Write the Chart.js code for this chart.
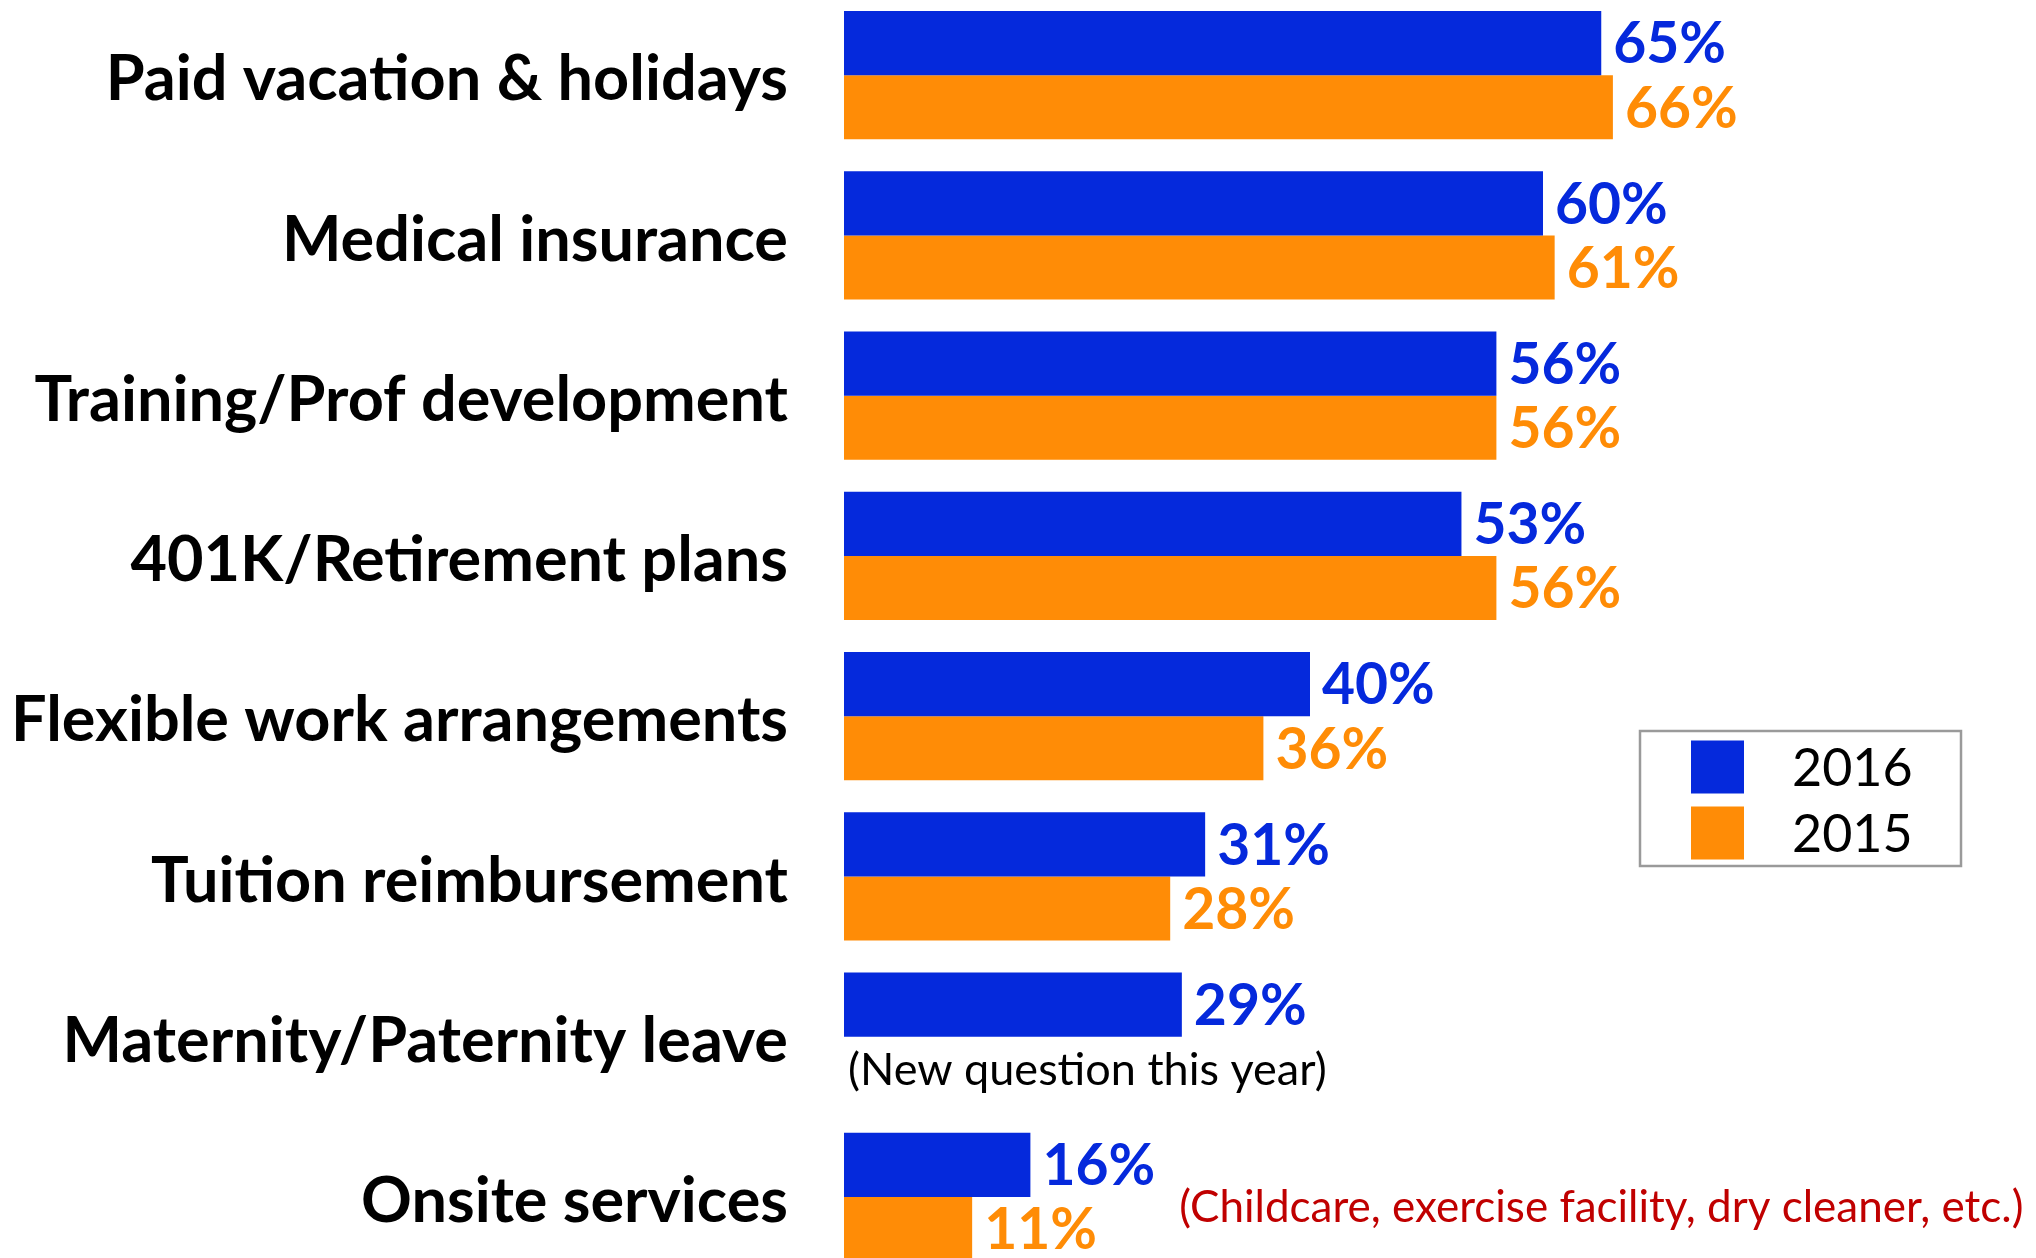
<!DOCTYPE html>
<html>
<head>
<meta charset="utf-8">
<title>Benefits offered</title>
<script src="https://cdn.jsdelivr.net/npm/chart.js@4.4.1/dist/chart.umd.min.js"></script>
<style>
  html, body { margin: 0; padding: 0; background: #fff; overflow: hidden; }
  #frame { position: relative; width: 2036px; height: 1258px; overflow: hidden; }
  /* plot runs a bit past the top and bottom edge */
  #wrap { position: absolute; left: 0; top: -5px; width: 2036px; height: 1282px; }
</style>
</head>
<body>
<div id="frame"><div id="wrap"><canvas id="benefitsChart"></canvas></div></div>
<script>
//------------------data---------------------
const categories = [
  'Paid vacation & holidays',
  'Medical insurance',
  'Training/Prof development',
  '401K/Retirement plans',
  'Flexible work arrangements',
  'Tuition reimbursement',
  'Maternity/Paternity leave',
  'Onsite services'
];
const values2016 = [65, 60, 56, 53, 40, 31, 29, 16];
const values2015 = [66, 61, 56, 56, 36, 28, null, 11];
const seriesLabels = ['2016', '2015'];
const seriesColors = ['#0529dc', '#ff8c06'];

const newQuestionNote = '(New question this year)';
const onsiteNote = '(Childcare, exercise facility, dry cleaner, etc.)';

const FONT = 'Lato, "Open Sans", sans-serif';
Chart.defaults.font.family = FONT;

//------------------plugins---------------------
// percent labels right after each bar, same colour as the bar
const valueLabels = {
  id: 'valueLabels',
  afterDatasetsDraw(chart) {
    const ctx = chart.ctx;
    ctx.save();
    ctx.font = 'bold 57px ' + FONT;
    ctx.textBaseline = 'middle';
    ctx.textAlign = 'left';
    chart.data.datasets.forEach((ds, i) => {
      chart.getDatasetMeta(i).data.forEach((bar, j) => {
        const v = ds.data[j];
        if (v === null || v === undefined) return;
        ctx.fillStyle = ds.backgroundColor;
        ctx.fillText(v + '%', bar.x + 12, bar.y + 2);
      });
    });
    ctx.restore();
  }
};

// the two little notes under/next to bars
const notes = {
  id: 'notes',
  afterDatasetsDraw(chart) {
    const ctx = chart.ctx;
    const xScale = chart.scales.x;
    const blue = chart.getDatasetMeta(0).data;
    ctx.save();
    ctx.textBaseline = 'middle';
    ctx.textAlign = 'left';

    // maternity leave has no 2015 bar, note goes in its slot
    const mat = blue[6];
    ctx.font = '45px ' + FONT;
    ctx.fillStyle = '#000';
    ctx.fillText(newQuestionNote, xScale.getPixelForValue(0) + 4, mat.y + mat.height + 2);

    // onsite services explanation, after the 2016 label
    const onsite = blue[7];
    ctx.font = 'bold 57px ' + FONT;
    const lblW = ctx.measureText(values2016[7] + '%').width;
    ctx.font = '44px ' + FONT;
    ctx.fillStyle = '#c00000';
    ctx.fillText(onsiteNote, onsite.x + 12 + lblW + 24, onsite.y + 43);
    ctx.restore();
  }
};

// boxed legend on the right
const boxLegend = {
  id: 'boxLegend',
  afterDraw(chart, args, opts) {
    const ctx = chart.ctx;
    ctx.save();
    ctx.strokeStyle = '#9a9a9a';
    ctx.lineWidth = 2.5;
    ctx.strokeRect(opts.left, opts.top, opts.width, opts.height);
    ctx.font = '52px ' + FONT;
    ctx.textBaseline = 'middle';
    ctx.textAlign = 'left';
    chart.data.datasets.forEach((ds, i) => {
      const cy = opts.top + opts.firstRow + i * opts.rowGap;
      ctx.fillStyle = ds.backgroundColor;
      ctx.fillRect(opts.swatchX, cy - opts.swatch / 2, opts.swatch, opts.swatch);
      ctx.fillStyle = '#000';
      ctx.fillText(ds.label, opts.textX, cy + 2);
    });
    ctx.restore();
  }
};

//------------------chart---------------------
function drawChart() {
  const el = document.getElementById('benefitsChart').getContext('2d');
  new Chart(el, {
    type: 'bar',
    data: {
      labels: categories,
      datasets: [
        { label: seriesLabels[0], data: values2016, backgroundColor: seriesColors[0] },
        { label: seriesLabels[1], data: values2015, backgroundColor: seriesColors[1] }
      ]
    },
    options: {
      indexAxis: 'y',
      responsive: true,
      maintainAspectRatio: false,
      animation: false,
      layout: { padding: { top: 0, bottom: 0, left: 0, right: 27 } },
      datasets: {
        bar: { categoryPercentage: 0.8, barPercentage: 1.0, borderWidth: 0, clip: false }
      },
      scales: {
        x: { display: false, min: 0, max: 100 },
        y: {
          grid: { display: false, drawTicks: false },
          border: { display: false },
          ticks: {
            color: '#000',
            padding: 56,
            labelOffset: 5,
            font: { size: 63, weight: 'bold' }
          },
          afterFit(scale) {
            scale.width = 844;
            scale.paddingTop = 0;
            scale.paddingBottom = 0;
          }
        }
      },
      plugins: {
        legend: { display: false },
        tooltip: { enabled: false },
        // legend box, in canvas coordinates (canvas sits 5px above the page)
        boxLegend: {
          left: 1640, top: 736, width: 321, height: 135,
          swatchX: 1691, swatch: 53, textX: 1792,
          firstRow: 36, rowGap: 66
        }
      }
    },
    plugins: [valueLabels, notes, boxLegend]
  });
}

drawChart();
</script>
</body>
</html>
